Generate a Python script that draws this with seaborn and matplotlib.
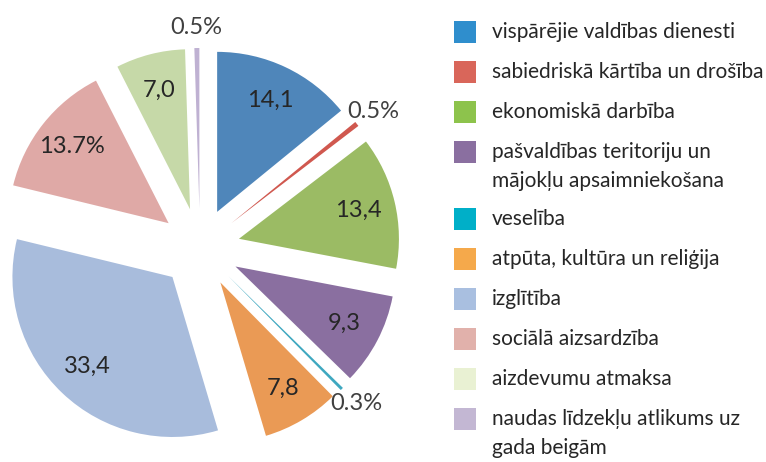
import matplotlib
matplotlib.use("Agg")
import numpy as np
import seaborn as sns
import matplotlib.pyplot as plt
from matplotlib.patches import Rectangle

# slice data (clockwise from 12 o'clock)
categories = [
    "vispārējie valdības dienesti",
    "sabiedriskā kārtība un drošība",
    "ekonomiskā darbība",
    "pašvaldības teritoriju un\nmājokļu apsaimniekošana",
    "veselība",
    "atpūta, kultūra un reliģija",
    "izglītība",
    "sociālā aizsardzība",
    "aizdevumu atmaksa",
    "naudas līdzekļu atlikums uz\ngada beigām",
]
shares = [14.1, 0.5, 13.4, 9.3, 0.3, 7.8, 33.4, 13.7, 7.0, 0.5]
value_labels = ["14,1", "0.5%", "13,4", "9,3", "0.3%", "7,8", "33,4", "13.7%", "7,0", "0.5%"]

pie_colors = ["#4F86BA", "#D0584F", "#9BBB64", "#8A6FA0", "#3FA8C0",
              "#EA9A55", "#A8BCDC", "#DFA9A6", "#C6D9A8", "#BFB1D2"]
legend_colors = ["#2F8ECD", "#D9665A", "#8DC34C", "#8A6FA0", "#00AFC8",
                 "#F5A94B", "#A9BFE0", "#E1B1AB", "#E9F1D3", "#C3B7D3"]

sns.set_theme(style="white")
plt.rcParams["font.family"] = ["Lato", "DejaVu Sans"]

W, H = 766, 462
fig = plt.figure(figsize=(W / 100, H / 100), dpi=100)

# pie: radius 1 == 160 px, centre at (200, 248) px
R = 160.0
cx, cy = 200.0, 248.0
ax = fig.add_axes([0, 0, 440 / W, 1])
wedges, _ = ax.pie(
    shares,
    colors=sns.color_palette(pie_colors),
    explode=[0.25] * len(shares),
    startangle=90,
    counterclock=False,
    wedgeprops=dict(linewidth=0),
)
ax.set_xlim(-cx / R, (440 - cx) / R)
ax.set_ylim(-(H - cy) / R, cy / R)
ax.set_aspect("auto")
ax.axis("off")

for w, lab, v in zip(wedges, value_labels, shares):
    ang = np.deg2rad((w.theta1 + w.theta2) / 2)
    x0, y0 = w.center
    if v < 1:
        d, col = 1.13, "#404040"
    else:
        d, col = 0.77, "#262626"
    ax.text(x0 + d * np.cos(ang), y0 + d * np.sin(ang), lab,
            ha="center", va="center", fontsize=17, color=col)

# legend drawn in pixel coordinates
lax = fig.add_axes([0, 0, 1, 1])
lax.set_xlim(0, W)
lax.set_ylim(H, 0)
lax.axis("off")
y = 32
for name, col in zip(categories, legend_colors):
    lax.add_patch(Rectangle((454, y - 11), 22, 22, color=col, lw=0))
    for j, line in enumerate(name.split("\n")):
        lax.text(492, y + 6 + j * 29, line, ha="left", va="baseline",
                 fontsize=15, color="#262626")
    y += 40 + 27 * (len(name.split("\n")) - 1)

fig.savefig("out.png", dpi=100)
